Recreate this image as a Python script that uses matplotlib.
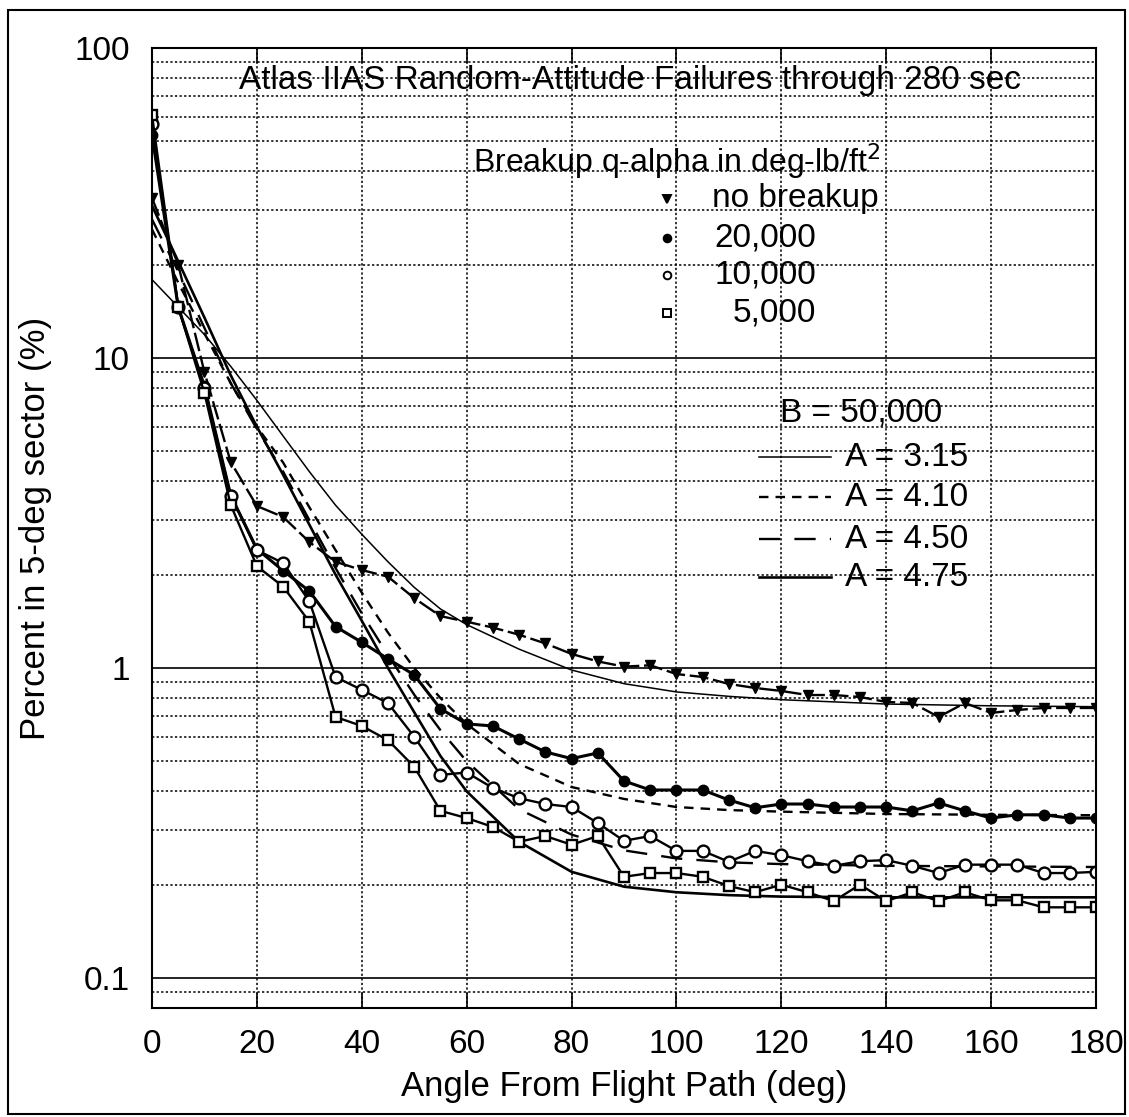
import numpy as np
import matplotlib.pyplot as plt
from matplotlib.patches import Rectangle

plt.rcParams['font.family'] = ['Liberation Sans', 'DejaVu Sans']

# Monte Carlo results, 5-deg sectors
angle = [0, 5, 10, 15, 20, 25, 30, 35, 40, 45, 50, 55, 60, 65, 70, 75, 80, 85, 90,
         95, 100, 105, 110, 115, 120, 125, 130, 135, 140, 145, 150, 155, 160, 165,
         170, 175, 180]

no_breakup = [32.8, 20.0, 9.0, 4.62, 3.33, 3.07, 2.55, 2.20, 2.07, 1.97, 1.68, 1.47,
              1.41, 1.35, 1.28, 1.20, 1.11, 1.05, 1.01, 1.02, 0.956, 0.935, 0.888,
              0.862, 0.843, 0.818, 0.818, 0.806, 0.777, 0.771, 0.695, 0.771, 0.716,
              0.732, 0.743, 0.743, 0.743]
q_20000 = [52.4, 14.6, 8.1, 3.61, 2.42, 2.06, 1.77, 1.36, 1.21, 1.07, 0.95, 0.738,
           0.66, 0.65, 0.59, 0.536, 0.51, 0.532, 0.432, 0.404, 0.404, 0.404, 0.375,
           0.354, 0.364, 0.364, 0.356, 0.356, 0.356, 0.346, 0.367, 0.346, 0.328,
           0.336, 0.336, 0.328, 0.328]
q_10000 = [56.9, 14.6, 8.0, 3.6, 2.4, 2.18, 1.64, 0.935, 0.85, 0.77, 0.60, 0.452,
           0.46, 0.41, 0.38, 0.364, 0.356, 0.316, 0.277, 0.287, 0.257, 0.257, 0.237,
           0.257, 0.249, 0.238, 0.230, 0.238, 0.240, 0.230, 0.218, 0.232, 0.232,
           0.232, 0.218, 0.218, 0.220]
q_5000 = [60.8, 14.6, 7.7, 3.36, 2.13, 1.83, 1.41, 0.695, 0.65, 0.585, 0.48, 0.346,
          0.328, 0.307, 0.275, 0.287, 0.269, 0.287, 0.212, 0.218, 0.218, 0.212,
          0.198, 0.189, 0.200, 0.189, 0.177, 0.200, 0.177, 0.189, 0.177, 0.189,
          0.178, 0.178, 0.169, 0.169, 0.169]

# fitted curves, B = 50,000
curve_angle = [0, 5, 10, 15, 20, 25, 30, 35, 40, 45, 50, 55, 60, 70, 80, 90, 100,
               110, 120, 140, 160, 180]
a_315 = [17.9, 14.6, 11.9, 9.4, 7.3, 5.6, 4.3, 3.35, 2.7, 2.2, 1.82, 1.55, 1.38,
         1.15, 0.985, 0.89, 0.837, 0.81, 0.79, 0.765, 0.755, 0.75]
a_410 = [26.0, 17.5, 12.0, 8.3, 6.0, 4.6, 3.3, 2.4, 1.75, 1.3, 1.0, 0.80, 0.66,
         0.49, 0.413, 0.378, 0.356, 0.348, 0.344, 0.338, 0.336, 0.335]
a_450 = [28.0, 19.0, 12.5, 8.3, 5.9, 4.3, 3.0, 2.1, 1.5, 1.1, 0.82, 0.63, 0.50,
         0.35, 0.29, 0.258, 0.243, 0.236, 0.233, 0.230, 0.229, 0.228]
a_475 = [31.0, 20.5, 13.5, 8.8, 6.0, 4.2, 2.9, 2.0, 1.42, 1.0, 0.72, 0.52, 0.40,
         0.275, 0.22, 0.197, 0.189, 0.185, 0.183, 0.182, 0.182, 0.182]

fig = plt.figure(figsize=(11.29, 11.17), dpi=100)
ax = fig.add_axes([152 / 1129, 109 / 1117, 944 / 1129, 960 / 1117])

ax.set_yscale('log')
ax.set_xlim(0, 180)
ax.set_ylim(0.08, 100)

# grid: solid decades, dotted minors and verticals
ax.grid(True, which='major', axis='y', color='black', linestyle='-', linewidth=1.2)
ax.grid(True, which='minor', axis='y', color='black', linestyle=(0, (1.5, 1.5)), linewidth=1.1)
ax.grid(True, which='major', axis='x', color='black', linestyle=(0, (1.5, 1.5)), linewidth=1.1)
ax.set_xticks(np.arange(0, 181, 20))
ax.set_yticks([0.1, 1, 10, 100])
ax.set_yticklabels(['0.1', '1', '10', '100'])
ax.tick_params(axis='x', which='major', direction='in', length=11, width=1.2,
               top=True, labelsize=24, pad=15)
ax.tick_params(axis='y', which='both', length=0, labelsize=24, pad=16)
ax.set_axisbelow(True)
for s in ax.spines.values():
    s.set_linewidth(1.5)

# curves
ax.plot(curve_angle, a_315, color='black', linewidth=1.1)
ax.plot(curve_angle, a_410, color='black', linewidth=1.7, linestyle=(0, (4, 3)))
ax.plot(curve_angle, a_450, color='black', linewidth=1.7, linestyle=(0, (9, 6)))
ax.plot(curve_angle, a_475, color='black', linewidth=1.9)

# data
ax.plot(angle, no_breakup, color='black', linewidth=1.7, linestyle=(0, (8, 2)),
        marker='v', markersize=6.5, markerfacecolor='black')
ax.plot(angle, q_20000, color='black', linewidth=2.2, marker='o', markersize=7.5,
        markerfacecolor='black')
ax.plot(angle, q_10000, color='black', linewidth=1.7, marker='o', markersize=8.5,
        markerfacecolor='white', markeredgewidth=1.7)
ax.plot(angle, q_5000, color='black', linewidth=1.7, marker='s', markersize=7,
        markerfacecolor='white', markeredgewidth=1.7)

ax.set_xlabel('Angle From Flight Path (deg)', fontsize=25, labelpad=7)
ax.set_ylabel('Percent in 5-deg sector (%)', fontsize=25, labelpad=16)


def px(x, y):
    return ((x - 152) / 944, (1008 - y) / 960)


tr = ax.transAxes
ax.text(*px(630, 80), 'Atlas IIAS Random-Attitude Failures through 280 sec',
        transform=tr, ha='center', va='center', fontsize=24)
ax.text(*px(677, 161), 'Breakup q-alpha in deg-lb/ft$^2$',
        transform=tr, ha='center', va='center', fontsize=23)

marker_rows = [('v', 'black', 199, 'no breakup'), ('o', 'black', 238, '20,000'),
               ('o', 'white', 275, '10,000'), ('s', 'white', 313, '5,000')]
for m, fc, yy, label in marker_rows:
    ax.plot(*px(667, yy), marker=m, markersize=5.5, color='black',
            markerfacecolor=fc, markeredgewidth=1.4, transform=tr)
    if label == 'no breakup':
        ax.text(*px(712, yy), label, transform=tr, ha='left', va='center', fontsize=24)
    else:
        ax.text(*px(816, yy), label, transform=tr, ha='right', va='center', fontsize=24)

ax.text(*px(861, 413), 'B = 50,000', transform=tr, ha='center', va='center', fontsize=24)
line_rows = [(457, '3.15', '-', 1.1), (497, '4.10', (0, (4, 3)), 1.7),
             (539, '4.50', (0, (9, 6)), 1.7), (577, '4.75', '-', 1.9)]
for yy, a, ls, lw in line_rows:
    x0, y0 = px(759, yy)
    x1, _ = px(831, yy)
    ax.plot([x0, x1], [y0, y0], color='black', linestyle=ls, linewidth=lw, transform=tr)
    ax.text(*px(845, yy), 'A = ' + a, transform=tr, ha='left', va='center', fontsize=24)

# outer frame
fig.patches.append(Rectangle((8 / 1129, 3 / 1117), 1117 / 1129, 1104 / 1117,
                             transform=fig.transFigure, fill=False,
                             edgecolor='black', linewidth=1.5))

fig.savefig('out.png', dpi=100)
